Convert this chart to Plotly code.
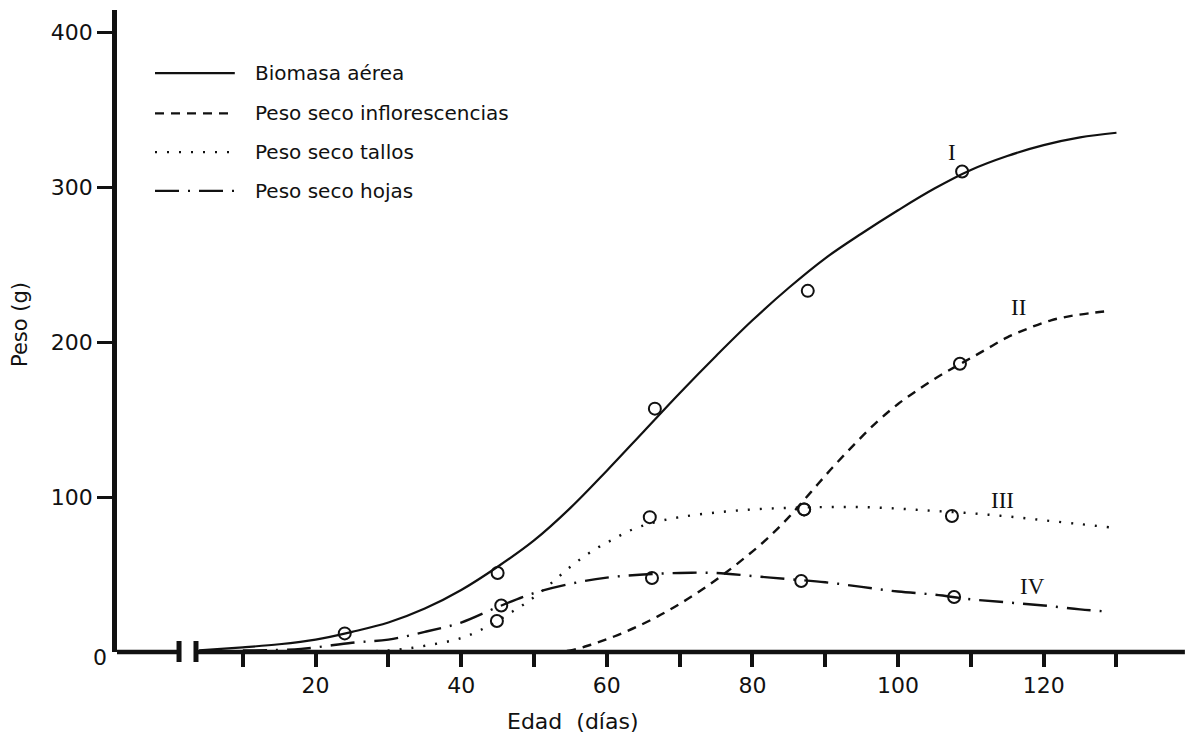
import plotly.graph_objects as go

# ---- curves (smoothed fits), age in days vs dry weight in g ----
biomasa_x = [4, 10, 15, 20, 25, 30, 35, 40, 45, 50, 55, 60, 65, 70, 75, 80, 85, 90, 95, 100, 105, 110, 115, 120, 125, 130]
biomasa_y = [1, 3, 5, 8, 13, 19, 28, 40, 55, 72, 93, 117, 142, 167, 191, 214, 235, 254, 270, 285, 299, 311, 320, 327, 332, 335]

inflor_x = [4, 30, 52, 55, 58, 61, 64, 67, 70, 73, 76, 79, 82, 85, 88, 91, 94, 97, 100, 103, 106, 109, 112, 115, 118, 121, 124, 127, 129]
inflor_y = [0, 0, 0, 1, 5, 10, 16, 23, 31, 40, 50, 61, 73, 87, 103, 119, 134, 148, 160, 170, 179, 187, 195, 203, 209, 214, 217, 219, 220]

tallos_x = [20, 30, 35, 40, 43, 45, 47, 49, 51, 53, 55, 57, 59, 61, 63, 66, 70, 75, 80, 85, 90, 95, 100, 105, 110, 115, 120, 125, 129]
tallos_y = [0, 1, 4, 9, 15, 20, 26, 32, 39, 47, 55, 62, 68, 73, 78, 83, 87, 90, 92, 93, 93.5, 93.5, 92.5, 91, 89.5, 87.5, 85, 82.5, 80.5]

hojas_x = [10, 18, 25, 30, 35, 40, 45, 50, 55, 60, 65, 70, 75, 80, 85, 90, 95, 100, 105, 110, 115, 120, 125, 129]
hojas_y = [1, 2, 6, 8, 13, 19, 29, 38, 44, 48, 50, 51, 51, 49, 47, 45, 42, 39, 37, 34, 32, 30, 27.5, 26]

# ---- observed values (open circles) ----
obs_biomasa_x = [24, 45, 66.6, 87.6, 108.8]
obs_biomasa_y = [12, 51, 157, 233, 310]
obs_inflor_x = [87.1, 108.5]
obs_inflor_y = [92, 186]
obs_tallos_x = [44.9, 65.9, 87.1, 107.4]
obs_tallos_y = [20, 87, 92, 87.7]
obs_hojas_x = [45.5, 66.2, 86.7, 107.7]
obs_hojas_y = [30, 47.7, 45.8, 35.5]

series_names = ["Biomasa aérea", "Peso seco inflorescencias", "Peso seco tallos", "Peso seco hojas"]
curve_labels = ["I", "II", "III", "IV"]
curve_label_x = [107.4, 116.5, 114.4, 118.5]
curve_label_y = [322, 222, 98, 42]

x_tick_vals = [10, 20, 30, 40, 50, 60, 70, 80, 90, 100, 110, 120, 130]
x_tick_text = ["", "20", "", "40", "", "60", "", "80", "", "100", "", "120", ""]
y_tick_vals = [100, 200, 300, 400]

# ---- styling / layout ----
W, H = 1197, 739
ML, MR, MT, MB = 117, 7, 10, 87
X_RANGE = [-7.28, 140.1]
Y_RANGE = [0, 414.2]
INK = "#111111"
FONT = "DejaVu Sans"

dashes = ["solid", "9px,7px", "2px,10px", "24px,9px,2px,9px"]
widths = [2.2, 2.4, 2.4, 2.4]

curves = [(biomasa_x, biomasa_y), (inflor_x, inflor_y), (tallos_x, tallos_y), (hojas_x, hojas_y)]
points = [(obs_biomasa_x, obs_biomasa_y), (obs_inflor_x, obs_inflor_y),
          (obs_tallos_x, obs_tallos_y), (obs_hojas_x, obs_hojas_y)]

fig = go.Figure()
for (cx, cy), dash, w, name in zip(curves, dashes, widths, series_names):
    fig.add_trace(go.Scatter(x=cx, y=cy, mode="lines", name=name,
                             line=dict(color=INK, width=w, dash=dash, shape="spline", smoothing=1.0),
                             showlegend=False, hoverinfo="skip"))
for (px_, py_), name in zip(points, series_names):
    fig.add_trace(go.Scatter(x=px_, y=py_, mode="markers", name=name,
                             marker=dict(symbol="circle-open", size=12, color=INK, line=dict(width=2, color=INK)),
                             showlegend=False, cliponaxis=False))

plot_w = W - ML - MR
plot_h = H - MT - MB

shapes = []
# x axis drawn in two pieces with a break near the origin
brk_left, brk_right, x_end = 1.24, 3.57, 139.4
for x0, x1 in [(X_RANGE[0], brk_left), (brk_right, x_end)]:
    shapes.append(dict(type="line", xref="x", yref="paper", x0=x0, x1=x1, y0=0, y1=0,
                       line=dict(color=INK, width=4.5)))
for xb in [brk_left, brk_right]:
    shapes.append(dict(type="line", xref="x", yref="paper", x0=xb, x1=xb,
                       y0=-10 / plot_h, y1=11 / plot_h,
                       line=dict(color=INK, width=5)))

# hand-made legend
leg_rows_y = [373.5, 347.5, 322.5, 297.5]
leg_x0, leg_x1, leg_text_x = -2.06, 8.9, 11.4
annotations = []
for ry, dash, name in zip(leg_rows_y, dashes, series_names):
    shapes.append(dict(type="line", xref="x", yref="y", x0=leg_x0, x1=leg_x1, y0=ry, y1=ry,
                       line=dict(color=INK, width=2.4, dash=dash)))
    annotations.append(dict(x=leg_text_x, y=ry, xref="x", yref="y", text=name, showarrow=False,
                            xanchor="left", yanchor="middle", font=dict(family=FONT, size=20, color=INK)))

for lab, lx, ly in zip(curve_labels, curve_label_x, curve_label_y):
    annotations.append(dict(x=lx, y=ly, xref="x", yref="y", text=lab, showarrow=False,
                            xanchor="center", yanchor="middle",
                            font=dict(family="Liberation Serif", size=23, color=INK)))

annotations.append(dict(x=(100 - ML) / plot_w, y=(652 - 657) / plot_h, xref="paper", yref="paper",
                        text="0", showarrow=False, xanchor="center", yanchor="middle",
                        font=dict(family=FONT, size=22, color=INK)))
annotations.append(dict(x=(20 - ML) / plot_w, y=(652 - 325) / plot_h, xref="paper", yref="paper",
                        text="Peso (g)", textangle=-90, showarrow=False, xanchor="center", yanchor="middle",
                        font=dict(family=FONT, size=21, color=INK)))
annotations.append(dict(x=(572 - ML) / plot_w, y=(652 - 722) / plot_h, xref="paper", yref="paper",
                        text="Edad  (días)", showarrow=False, xanchor="center", yanchor="middle",
                        font=dict(family=FONT, size=22, color=INK)))

fig.update_layout(
    width=W, height=H,
    margin=dict(l=ML, r=MR, t=MT, b=MB, pad=0),
    paper_bgcolor="white", plot_bgcolor="white",
    shapes=shapes, annotations=annotations,
    xaxis=dict(range=X_RANGE, showgrid=False, zeroline=False, showline=False,
               tickmode="array", tickvals=x_tick_vals, ticktext=x_tick_text,
               ticks="outside", ticklen=14, tickwidth=4, tickcolor=INK,
               tickfont=dict(family=FONT, size=22, color=INK)),
    yaxis=dict(range=Y_RANGE, showgrid=False, zeroline=False, showline=True,
               linecolor=INK, linewidth=4.5,
               tickmode="array", tickvals=y_tick_vals,
               ticks="outside", ticklen=15, tickwidth=3, tickcolor=INK,
               tickfont=dict(family=FONT, size=22, color=INK)),
)

fig.write_html("out.html")
